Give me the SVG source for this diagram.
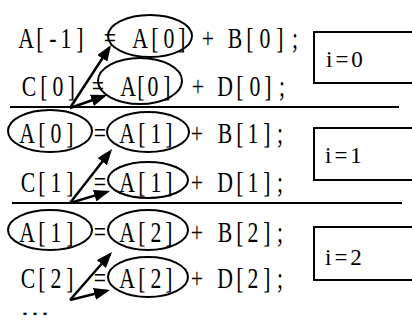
<svg xmlns="http://www.w3.org/2000/svg" width="412" height="327" viewBox="0 0 412 327">
<style>
.t{font-family:"Liberation Serif","DejaVu Serif",serif;font-size:29px;fill:#000;text-anchor:middle}
.b{font-family:"Liberation Serif","DejaVu Serif",serif;font-size:23px;fill:#000;letter-spacing:3px}
.e{fill:none;stroke:#000;stroke-width:2}
.sep{stroke:#000;stroke-width:2}
.box{fill:#fff;stroke:#000;stroke-width:2}
.arr{stroke:#000;stroke-width:2.5;fill:none;marker-end:url(#ah)}
</style>
<defs>
<marker id="ah" markerUnits="userSpaceOnUse" markerWidth="16" markerHeight="12" refX="13" refY="6" orient="auto">
<path d="M0,0 L16,6 L0,12 z" fill="#000"/>
</marker>
</defs>
<rect width="412" height="327" fill="#fff"/>
<g transform="scale(0.75 1)">
<g id="line1">
<text class="t" x="34.67 53.33 70.67 88 106.67" y="48">A[-1]</text>
<text class="t" x="146.67" y="48">=</text>
<text class="t" x="186.67 206.67 225.33 242.67" y="48">A[0]</text>
<text class="t" x="277.33" y="48">+</text>
<text class="t" x="313.33 333.33 353.33 373.33 393.33" y="48">B[0];</text>
</g>
<g id="line2">
<text class="t" x="38.67 58.67 77.33 95.33" y="96">C[0]</text>
<text class="t" x="130.67" y="96">=</text>
<text class="t" x="170.67 188 204 222.67" y="96">A[0]</text>
<text class="t" x="264" y="96">+</text>
<text class="t" x="300 320 340 357.33 376" y="96">D[0];</text>
</g>
<g id="line3">
<text class="t" x="36 56 74.67 93.33" y="143">A[0]</text>
<text class="t" x="133.33" y="143">=</text>
<text class="t" x="169.33 189.33 208 225.33" y="143">A[1]</text>
<text class="t" x="262.67" y="143">+</text>
<text class="t" x="300 320 337.33 356 373.33" y="143">B[1];</text>
</g>
<g id="line4">
<text class="t" x="37.33 56 74.67 93.33" y="192">C[1]</text>
<text class="t" x="133.33" y="192">=</text>
<text class="t" x="169.33 189.33 208 225.33" y="192">A[1]</text>
<text class="t" x="262.67" y="192">+</text>
<text class="t" x="300 320 337.33 356 373.33" y="192">D[1];</text>
</g>
<g id="line5">
<text class="t" x="36 56 74.67 93.33" y="242">A[1]</text>
<text class="t" x="133.33" y="242">=</text>
<text class="t" x="169.33 189.33 208 225.33" y="242">A[2]</text>
<text class="t" x="262.67" y="242">+</text>
<text class="t" x="300 320 337.33 356 373.33" y="242">B[2];</text>
</g>
<g id="line6">
<text class="t" x="37.33 56 74.67 93.33" y="288">C[2]</text>
<text class="t" x="133.33" y="288">=</text>
<text class="t" x="169.33 189.33 208 225.33" y="288">A[2]</text>
<text class="t" x="262.67" y="288">+</text>
<text class="t" x="300 320 337.33 356 373.33" y="288">D[2];</text>
</g>
</g>
<g id="ellipses">
<ellipse id="e1" class="e" cx="150" cy="36" rx="42" ry="21"/>
<ellipse id="e2" class="e" cx="140" cy="81" rx="42" ry="23"/>
<ellipse id="e3a" class="e" cx="50" cy="131" rx="42" ry="21"/>
<ellipse id="e3b" class="e" cx="148" cy="132" rx="41" ry="20"/>
<ellipse id="e4" class="e" cx="148" cy="180" rx="40" ry="18"/>
<ellipse id="e5a" class="e" cx="50" cy="230" rx="42" ry="20"/>
<ellipse id="e5b" class="e" cx="148" cy="230" rx="40" ry="20"/>
<ellipse id="e6" class="e" cx="148" cy="277" rx="40" ry="20"/>
</g>
<g id="separators">
<line class="sep" x1="10" y1="107" x2="399" y2="107"/>
<line class="sep" x1="12" y1="203" x2="402" y2="203"/>
</g>
<g id="box0"><rect class="box" x="314" y="32" width="100" height="51"/><text class="b" x="326" y="67">i=0</text></g>
<g id="box1"><rect class="box" x="314" y="128" width="100" height="52"/><text class="b" x="325" y="163">i=1</text></g>
<g id="box2"><rect class="box" x="314" y="227" width="100" height="53"/><text class="b" x="325" y="265">i=2</text></g>
<g id="connectors">
<line class="arr" x1="70" y1="108" x2="109.4" y2="47.5"/>
<line class="arr" x1="70" y1="108" x2="104.2" y2="96"/>
<line class="arr" x1="70" y1="203" x2="110.2" y2="151.4"/>
<line class="arr" x1="70" y1="203" x2="107.1" y2="191.9"/>
<line class="arr" x1="70" y1="300" x2="110" y2="254.3"/>
<line class="arr" x1="70" y1="300" x2="107.1" y2="290.7"/>
</g>
<text x="20" y="315" textLength="30" lengthAdjust="spacingAndGlyphs" style="font-family:'Liberation Serif',serif;font-size:22px">…</text>
</svg>
